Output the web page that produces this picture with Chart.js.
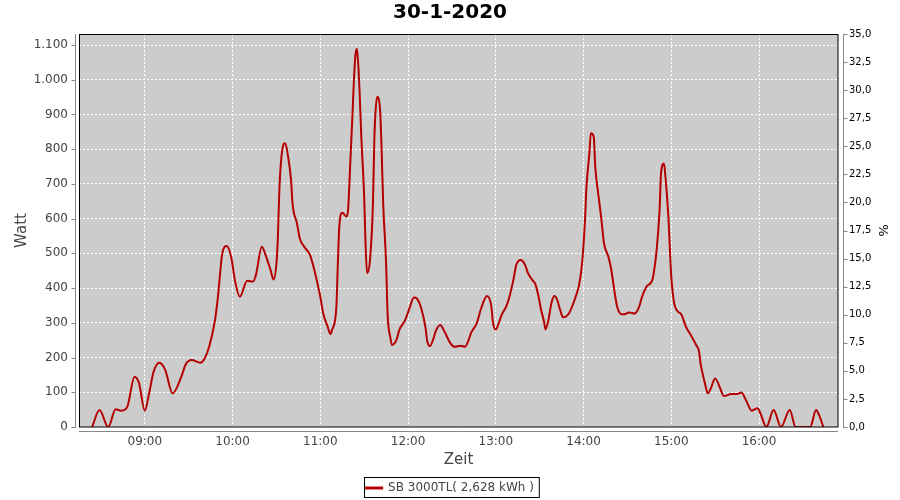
<!DOCTYPE html>
<html>
<head>
<meta charset="utf-8">
<script src="https://cdn.jsdelivr.net/npm/chart.js@4"></script>
<style>
  html, body { margin: 0; padding: 0; background: #fff; }
</style>
</head>
<body>
<canvas id="myChart" width="900" height="500"></canvas>
<script>
// Readings of the day, time -> Watt
const times = [
    '08:24','08:29','08:35','08:40','08:44','08:48','08:53','08:56',
    '09:00','09:03','09:06','09:10','09:14','09:19','09:25','09:28','09:32','09:38','09:41','09:44','09:48','09:50','09:53','09:56','09:59',
    '10:02','10:05','10:10','10:14','10:16','10:20','10:23','10:26','10:28','10:30','10:31','10:32','10:34','10:36','10:38','10:40','10:41','10:44','10:46','10:49','10:53','10:55','10:57',
    '11:00','11:02','11:05','11:07','11:08','11:11','11:12','11:13','11:15','11:18','11:19','11:20','11:21','11:22','11:23','11:24','11:25','11:26','11:27','11:28',
    '11:30','11:31','11:32','11:34','11:36','11:37','11:38','11:39','11:41','11:42','11:43','11:45','11:46','11:48','11:49','11:52','11:54','11:58',
    '12:01','12:04','12:06','12:09','12:12','12:13','12:15','12:17','12:19','12:22','12:25','12:29','12:32','12:36','12:39','12:41','12:43','12:47','12:50','12:54','12:57','12:58',
    '13:00','13:02','13:04','13:07','13:09','13:12','13:14','13:17','13:20','13:22','13:25','13:27','13:29','13:31','13:33','13:34','13:36','13:38','13:40','13:42','13:44','13:46','13:50','13:53','13:55','13:57','13:59',
    '14:01','14:02','14:04','14:05','14:07','14:08','14:10','14:12','14:14','14:17','14:19','14:21','14:23','14:26','14:28','14:31','14:35','14:38','14:40','14:43','14:47','14:48','14:50','14:52','14:53','14:55','14:56','14:58',
    '15:00','15:02','15:04','15:07','15:10','15:14','15:17','15:19','15:20','15:23','15:25','15:27','15:30','15:33','15:36','15:41','15:45','15:48','15:51','15:55','15:59',
    '16:01','16:05','16:10','16:15','16:21','16:25','16:35','16:39','16:41','16:44'
];
const watts = [
    0, 49, 0, 51, 47, 58, 145, 127,
    47, 98, 159, 185, 164, 97, 145, 181, 193, 185, 198, 231, 308, 375, 500, 521, 490,
    414, 375, 421, 419, 438, 519, 490, 452, 425, 471, 548, 683, 798, 817, 778, 711, 644, 587, 543, 519, 495, 467, 433,
    375, 327, 289, 268, 279, 346, 471, 577, 617, 606, 625, 711, 807, 900, 1000, 1070, 1089, 1040, 951, 840,
    663, 519, 443, 481, 644, 836, 922, 951, 903, 788, 644, 471, 327, 255, 236, 250, 279, 308,
    342, 373, 370, 342, 284, 250, 233, 250, 277, 294, 274, 241, 231, 234, 231, 246, 270, 299, 342, 377, 346, 303,
    281, 299, 323, 346, 370, 423, 467, 481, 467, 443, 423, 412, 380, 337, 303, 281, 308, 356, 377, 366, 337, 316, 327, 356, 380, 410, 471,
    596, 692, 788, 846, 836, 750, 673, 606, 529, 490, 452, 395, 346, 325, 325, 330, 327, 346, 375, 404, 423, 443, 510, 625, 731, 759, 721, 606,
    433, 356, 335, 323, 289, 260, 236, 217, 183, 126, 97, 111, 140, 116, 89, 95, 95, 99, 78, 47, 54,
    39, 0, 49, 0, 49, 0, 0, 49, 35, 0
];

// Axis ticks
const hourTicks = ['09:00', '10:00', '11:00', '12:00', '13:00', '14:00', '15:00', '16:00'];
const wattTicks = [0, 100, 200, 300, 400, 500, 600, 700, 800, 900, 1000, 1100];
const timeRange = ['08:15', '16:54'];
const wattMax = 1131.7;
const percentMax = 35;

const seriesLabel = 'SB 3000TL( 2,628 kWh )';
const lineCol = '#b40000';

function toMin(t) {
    const p = t.split(':');
    return +p[0] * 60 + +p[1];
}
function fmtMin(m) {
    const h = Math.floor(m / 60), mm = m % 60;
    return String(h).padStart(2, '0') + ':' + String(mm).padStart(2, '0');
}

const points = times.map((t, i) => ({ x: toMin(t), y: watts[i] }));

// background, frame, offset axis lines, legend box
const frame = {
    id: 'frame',
    beforeDraw(chart) {
        const { ctx, chartArea: a } = chart;
        ctx.save();
        ctx.fillStyle = '#cccccc';
        ctx.fillRect(a.left, a.top, a.right - a.left, a.bottom - a.top);
        ctx.restore();
    },
    afterDatasetsDraw(chart) {
        const { ctx, chartArea: a } = chart;
        ctx.save();
        ctx.strokeStyle = '#000';
        ctx.lineWidth = 1;
        ctx.strokeRect(a.left + 0.5, a.top + 0.5, a.right - a.left - 0.5, a.bottom - a.top - 0.5);
        ctx.restore();
    },
    afterDraw(chart) {
        const { ctx, chartArea: a, scales } = chart;
        ctx.save();
        ctx.strokeStyle = '#888';
        ctx.lineWidth = 1;
        ctx.beginPath();
        // left axis
        ctx.moveTo(a.left - 3.5, a.top);
        ctx.lineTo(a.left - 3.5, a.bottom + 1);
        scales.y.ticks.forEach(t => {
            const y = Math.round(scales.y.getPixelForValue(t.value)) + 0.5;
            ctx.moveTo(a.left - 7.5, y);
            ctx.lineTo(a.left - 3.5, y);
        });
        // right axis
        ctx.moveTo(a.right + 5.5, a.top);
        ctx.lineTo(a.right + 5.5, a.bottom + 1);
        scales.y2.ticks.forEach(t => {
            const y = Math.round(scales.y2.getPixelForValue(t.value)) + 0.5;
            ctx.moveTo(a.right + 5.5, y);
            ctx.lineTo(a.right + 9.5, y);
        });
        // bottom axis
        ctx.moveTo(a.left, a.bottom + 4.5);
        ctx.lineTo(a.right, a.bottom + 4.5);
        ctx.stroke();

        // legend border
        const hb = chart.legend.legendHitBoxes[0];
        if (hb) {
            ctx.strokeStyle = '#000';
            ctx.strokeRect(Math.round(hb.left) - 1.5, Math.round(hb.top) - 4.5, hb.width + 7, hb.height + 8);
        }
        ctx.restore();
    }
};

Chart.defaults.font.family = "'DejaVu Sans', sans-serif";
Chart.defaults.color = '#444';

const ctx = document.getElementById('myChart');

const myChart = new Chart(ctx, {
    type: 'line',
    data: {
        datasets: [{
            label: seriesLabel,
            data: points,
            borderColor: lineCol,
            backgroundColor: lineCol,
            borderWidth: 2,
            pointRadius: 0,
            cubicInterpolationMode: 'monotone',
            fill: false,
            yAxisID: 'y'
        }]
    },
    options: {
        responsive: false,
        animation: false,
        layout: { padding: { left: 0, right: 0, top: 0, bottom: -4 } },
        plugins: {
            title: {
                display: true,
                text: '30-1-2020',
                color: '#000',
                font: { size: 20, weight: 'bold' },
                padding: { top: 1, bottom: 9 }
            },
            legend: {
                position: 'bottom',
                labels: {
                    boxWidth: 16,
                    boxHeight: 1,
                    padding: 7,
                    color: '#444',
                    font: { size: 12 }
                }
            },
            tooltip: { enabled: false }
        },
        scales: {
            x: {
                type: 'linear',
                min: toMin(timeRange[0]),
                max: toMin(timeRange[1]),
                afterBuildTicks: s => { s.ticks = hourTicks.map(h => ({ value: toMin(h) })); },
                afterFit: s => { s.height = 48; s.paddingLeft = 0; s.paddingRight = 0; },
                grid: { color: '#fff', lineWidth: 1, drawTicks: false },
                border: { display: false, dash: [2, 2] },
                ticks: {
                    padding: 8,
                    color: '#444',
                    font: { size: 12 },
                    maxRotation: 0,
                    callback: v => fmtMin(v)
                },
                title: {
                    display: true,
                    text: 'Zeit',
                    color: '#444',
                    font: { size: 15 },
                    padding: { top: 0, bottom: 6 }
                }
            },
            y: {
                position: 'left',
                min: 0,
                max: wattMax,
                afterBuildTicks: s => { s.ticks = wattTicks.map(v => ({ value: v })); },
                afterFit: s => { s.width = 79; s.paddingTop = 0; s.paddingBottom = 0; },
                grid: { color: '#fff', lineWidth: 1, drawTicks: false },
                border: { display: false, dash: [2, 2] },
                ticks: {
                    padding: 11,
                    color: '#444',
                    font: { size: 12 },
                    callback: v => String(v).replace(/\B(?=(\d{3})+(?!\d))/g, '.')
                },
                title: {
                    display: true,
                    text: 'Watt',
                    color: '#444',
                    font: { size: 15 },
                    padding: { top: 13, bottom: 0 }
                }
            },
            y2: {
                position: 'right',
                min: 0,
                max: percentMax,
                afterFit: s => { s.width = 62; s.paddingTop = 0; s.paddingBottom = 0; },
                grid: { drawOnChartArea: false, drawTicks: false },
                border: { display: false },
                ticks: {
                    stepSize: 2.5,
                    padding: 11,
                    color: '#000',
                    font: { size: 10 },
                    callback: v => v.toFixed(1).replace('.', ',')
                },
                title: {
                    display: true,
                    text: '%',
                    color: '#000',
                    font: { size: 13 },
                    padding: { top: 10, bottom: 0 }
                }
            }
        }
    },
    plugins: [frame]
});
</script>
</body>
</html>
